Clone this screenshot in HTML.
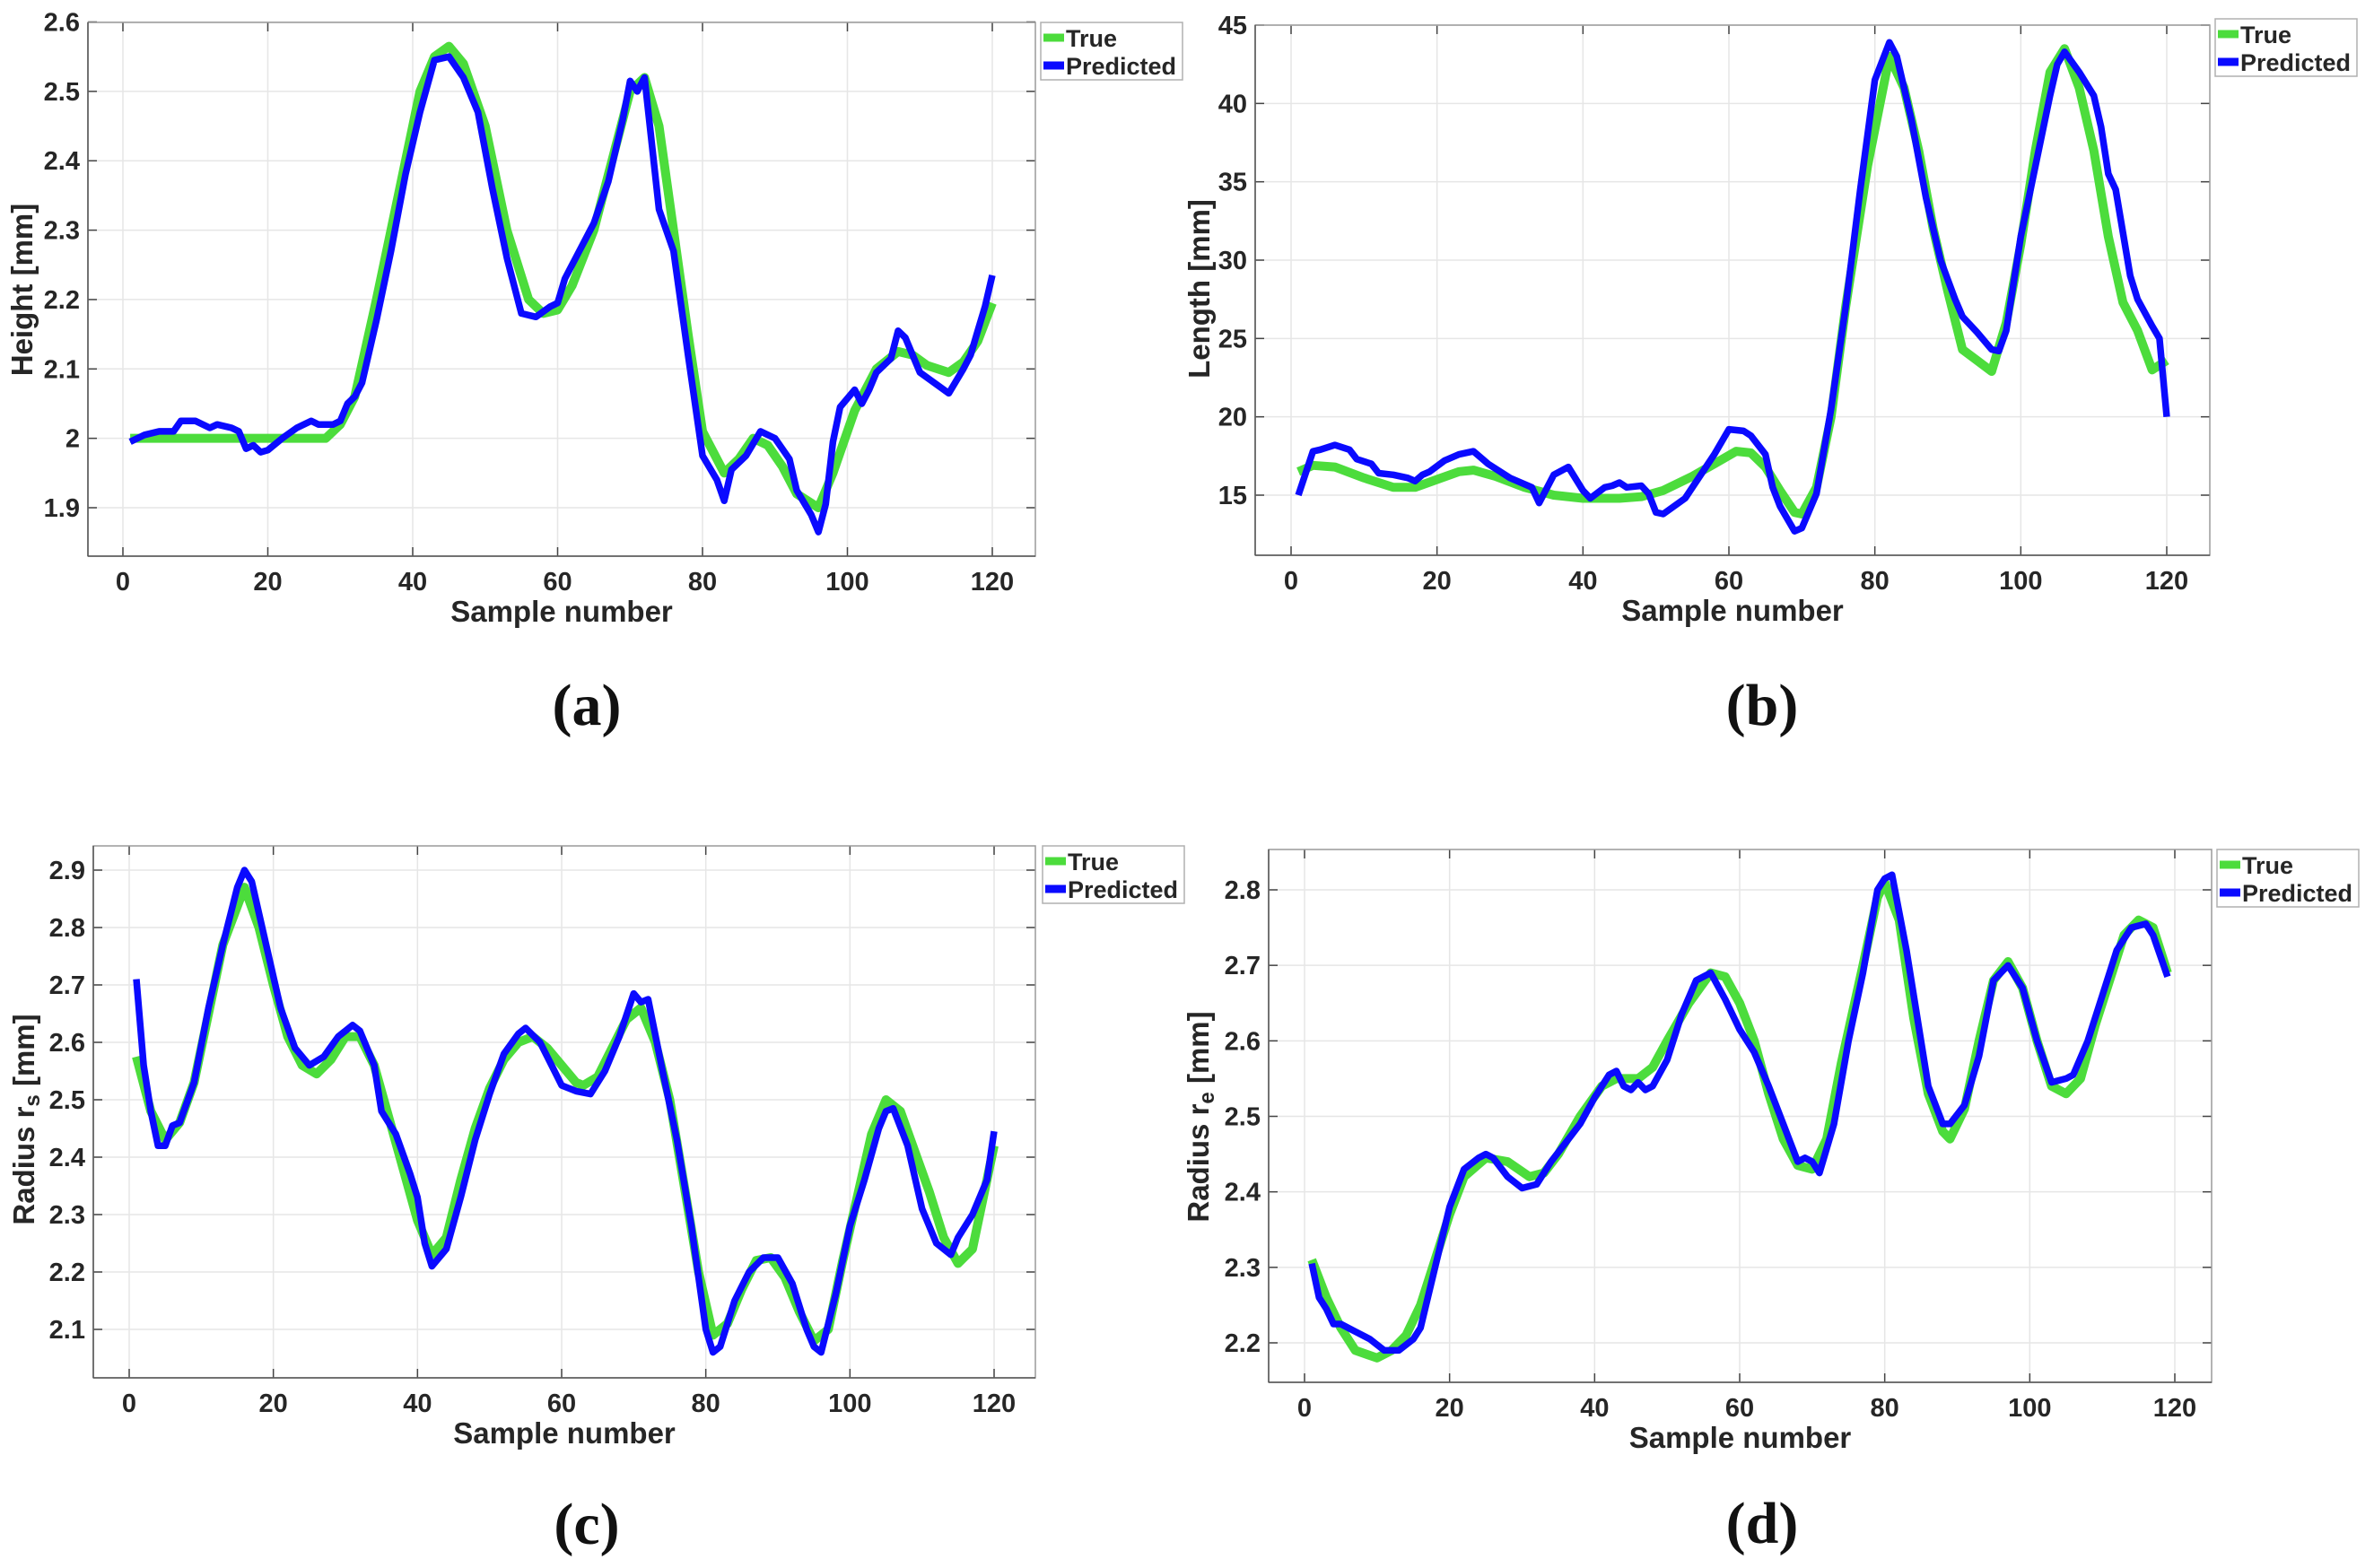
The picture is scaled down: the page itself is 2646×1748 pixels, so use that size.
<!DOCTYPE html>
<html><head><meta charset="utf-8">
<style>
html,body{margin:0;padding:0;background:#fff;}
svg{display:block;}
text{font-family:"Liberation Sans",Arial,sans-serif;}
</style></head>
<body>
<svg id="fig" width="2646" height="1748" viewBox="0 0 2646 1748" xmlns="http://www.w3.org/2000/svg"></svg>
<script>
// ---- Panel (a) Height ----
const aTrueX = [1,28,30,32,35,38,41,43,45,47,50,53,56,58,60,62,65,68,70,72,74,76,78,80,83,85,87,89,91,93,96,98,101,104,107,109,111,114,116,118,120];
const aTrueY = [2.0,2.0,2.02,2.06,2.2,2.35,2.5,2.55,2.565,2.54,2.45,2.3,2.2,2.18,2.185,2.22,2.3,2.42,2.5,2.52,2.45,2.3,2.15,2.01,1.95,1.97,2.0,1.99,1.96,1.92,1.9,1.95,2.04,2.1,2.125,2.12,2.105,2.095,2.11,2.14,2.195];
const aPredX = [1,3,5,7,8,10,12,13,15,16,17,18,19,20,22,24,26,27,29,30,31,32,33,35,37,39,41,43,45,47,49,51,53,55,57,59,60,61,63,65,67,69,70,71,72,74,76,78,80,82,83,84,86,88,90,92,93,95,96,97,98,99,101,102,103,104,106,107,108,110,112,114,116,117,118,119,120];
const aPredY = [1.995,2.005,2.01,2.01,2.025,2.025,2.015,2.02,2.015,2.01,1.985,1.99,1.98,1.983,2.0,2.015,2.025,2.02,2.02,2.025,2.05,2.06,2.08,2.17,2.27,2.38,2.47,2.545,2.55,2.52,2.47,2.36,2.26,2.18,2.175,2.19,2.195,2.23,2.27,2.31,2.37,2.46,2.515,2.5,2.52,2.33,2.27,2.12,1.975,1.94,1.91,1.955,1.975,2.01,2.0,1.97,1.925,1.89,1.865,1.905,1.995,2.045,2.07,2.05,2.07,2.095,2.115,2.155,2.145,2.095,2.08,2.065,2.1,2.12,2.155,2.19,2.235];
const aYTicks = [1.9,2.0,2.1,2.2,2.3,2.4,2.5,2.6];
const aYTickLabels = ["1.9","2","2.1","2.2","2.3","2.4","2.5","2.6"];

// ---- Panel (b) Length ----
const bTrueX = [1,3,6,10,14,17,20,23,25,28,32,36,40,45,48,51,55,58,61,63,65,67,69,70,72,74,76,79,82,84,86,88,90,92,94,96,98,100,102,104,106,108,110,112,114,116,118,120];
const bTrueY = [16.5,16.9,16.8,16.1,15.5,15.5,16,16.5,16.6,16.2,15.5,15,14.8,14.8,14.9,15.3,16.2,17,17.8,17.7,16.8,15.3,13.9,13.8,15.5,20,27,36,43,41,37,32,28,24.3,23.6,22.9,26,31,37,42,43.5,41,37,31.5,27.3,25.5,23,23.6];
const bPredX = [1,3,4,6,8,9,11,12,14,16,17,18,19,21,23,25,27,30,33,34,36,38,40,41,43,44,45,46,48,49,50,51,54,56,58,60,62,63,65,66,67,69,70,72,74,76,78,80,82,83,85,87,89,91,92,94,96,97,98,100,102,104,105,106,108,110,111,112,113,115,116,118,119,120];
const bPredY = [15.0,17.8,17.9,18.2,17.9,17.3,17.0,16.4,16.3,16.1,15.9,16.3,16.5,17.2,17.6,17.8,17.0,16.1,15.5,14.5,16.3,16.8,15.3,14.8,15.5,15.6,15.8,15.5,15.6,15.1,13.9,13.8,14.8,16.2,17.6,19.2,19.1,18.8,17.6,15.5,14.3,12.7,12.9,15.1,20.5,27,34.5,41.5,43.9,43,39,34,30,27.5,26.4,25.4,24.3,24.2,25.5,31.5,36,40.5,42.5,43.3,42,40.5,38.5,35.5,34.5,29,27.5,25.8,25,20.0];
const bYTicks = [15,20,25,30,35,40,45];
const bYTickLabels = ["15","20","25","30","35","40","45"];

// ---- Panel (c) Radius rs ----
const cTrueX = [1,3,5,7,9,11,13,16,18,20,22,24,26,28,30,32,34,36,38,40,42,44,46,48,50,52,54,56,58,60,62,63,65,67,69,71,73,75,77,79,81,83,85,87,89,91,93,95,97,99,101,103,105,107,109,111,113,115,117,120];
const cTrueY = [2.575,2.48,2.43,2.46,2.53,2.65,2.77,2.87,2.8,2.7,2.61,2.56,2.545,2.57,2.61,2.61,2.56,2.47,2.38,2.29,2.23,2.26,2.36,2.45,2.52,2.57,2.6,2.61,2.59,2.56,2.53,2.525,2.54,2.59,2.64,2.66,2.6,2.5,2.35,2.2,2.09,2.11,2.17,2.22,2.225,2.19,2.13,2.08,2.1,2.22,2.33,2.44,2.5,2.48,2.41,2.34,2.26,2.215,2.24,2.42];
const cPredX = [1,2,3,4,5,6,7,9,11,13,15,16,17,19,21,23,25,27,29,31,32,34,35,37,39,40,41,42,44,46,48,50,52,54,55,57,59,60,62,64,66,68,70,71,72,74,76,78,80,81,82,84,86,88,90,92,94,95,96,98,100,102,104,105,106,108,110,112,114,115,117,119,120];
const cPredY = [2.71,2.56,2.48,2.42,2.42,2.455,2.46,2.53,2.66,2.77,2.87,2.9,2.88,2.77,2.66,2.59,2.56,2.575,2.61,2.63,2.62,2.56,2.48,2.44,2.37,2.33,2.25,2.21,2.24,2.33,2.43,2.51,2.58,2.615,2.625,2.6,2.55,2.525,2.515,2.51,2.55,2.61,2.685,2.67,2.675,2.55,2.43,2.28,2.1,2.06,2.07,2.15,2.2,2.225,2.225,2.18,2.1,2.07,2.06,2.16,2.28,2.36,2.45,2.48,2.485,2.42,2.31,2.25,2.23,2.26,2.3,2.36,2.445];
const cYTicks = [2.1,2.2,2.3,2.4,2.5,2.6,2.7,2.8,2.9];
const cYTickLabels = ["2.1","2.2","2.3","2.4","2.5","2.6","2.7","2.8","2.9"];

// ---- Panel (d) Radius re ----
const dTrueX = [1,3,5,7,10,12,14,16,18,20,22,25,28,31,33,35,38,41,43,46,48,50,53,56,58,60,62,64,66,68,70,72,74,77,79,80,82,84,86,88,89,91,93,95,97,99,101,103,105,107,109,111,113,115,117,119];
const dTrueY = [2.31,2.26,2.22,2.19,2.18,2.19,2.21,2.25,2.31,2.37,2.42,2.445,2.44,2.42,2.425,2.45,2.5,2.54,2.55,2.55,2.565,2.6,2.65,2.69,2.685,2.65,2.6,2.53,2.47,2.435,2.43,2.47,2.57,2.7,2.79,2.81,2.76,2.63,2.53,2.48,2.47,2.51,2.6,2.68,2.705,2.67,2.6,2.54,2.53,2.55,2.62,2.68,2.74,2.76,2.75,2.69];
const dPredX = [1,2,3,4,5,7,9,11,13,15,16,18,20,22,24,25,26,28,30,32,34,36,38,40,42,43,44,45,46,47,48,50,52,54,56,58,60,62,64,66,68,69,70,71,73,75,77,79,80,81,83,85,86,88,89,91,93,95,97,99,101,103,105,106,108,110,112,114,116,117,119];
const dPredY = [2.305,2.26,2.245,2.225,2.225,2.215,2.205,2.19,2.19,2.205,2.22,2.3,2.38,2.43,2.445,2.45,2.445,2.42,2.405,2.41,2.44,2.465,2.49,2.525,2.555,2.56,2.54,2.535,2.545,2.535,2.54,2.575,2.635,2.68,2.69,2.655,2.615,2.585,2.54,2.49,2.44,2.445,2.44,2.425,2.49,2.6,2.69,2.8,2.815,2.82,2.72,2.6,2.54,2.49,2.49,2.515,2.58,2.68,2.7,2.67,2.6,2.545,2.55,2.555,2.6,2.66,2.72,2.75,2.755,2.74,2.685];
const dYTicks = [2.2,2.3,2.4,2.5,2.6,2.7,2.8];
const dYTickLabels = ["2.2","2.3","2.4","2.5","2.6","2.7","2.8"];

const xTicks = [0,20,40,60,80,100,120];
const xTickLabels = ["0","20","40","60","80","100","120"];

const NS = "http://www.w3.org/2000/svg";
const svg = document.getElementById('fig');
function mk(tag, attrs, parent){
  const e = document.createElementNS(NS, tag);
  for (const k in attrs) e.setAttribute(k, attrs[k]);
  (parent||svg).appendChild(e);
  return e;
}

function panel(p){
  const g = mk('g', {});
  
  
  const sx = v => p.x0px + (v - 0) * (p.x120px - p.x0px) / 120;
  const sy = v => p.yApx + (v - p.yA) * (p.yBpx - p.yApx) / (p.yB - p.yA);
  // grid
  xTicks.forEach(t => {
    const l = mk('line', {x1:sx(t), x2:sx(t), y1:p.top, y2:p.bottom, stroke:'#e6e6e6', 'stroke-width':1.5}, g);
    
    
    const tk = mk('line', {x1:sx(t), x2:sx(t), y1:p.bottom, y2:p.bottom-10, stroke:'#444', 'stroke-width':1.5}, g);
    
    
    const tk2 = mk('line', {x1:sx(t), x2:sx(t), y1:p.top, y2:p.top+10, stroke:'#444', 'stroke-width':1.5}, g);
    
    
  });
  xTicks.forEach((t,i) => {
    const tx = mk('text', {x:sx(t), y:p.bottom+38, 'text-anchor':'middle', 'font-size':29, 'font-weight':'bold', fill:'#262626'}, g);
    tx.textContent = xTickLabels[i];
    
    
  });
  p.yTicks.forEach((t,i) => {
    const l = mk('line', {x1:p.left, x2:p.right, y1:sy(t), y2:sy(t), stroke:'#e6e6e6', 'stroke-width':1.5}, g);
    
    
    const tk = mk('line', {x1:p.left, x2:p.left+10, y1:sy(t), y2:sy(t), stroke:'#444', 'stroke-width':1.5}, g);
    
    
    const tk2 = mk('line', {x1:p.right-10, x2:p.right, y1:sy(t), y2:sy(t), stroke:'#444', 'stroke-width':1.5}, g);
    
    
    const tx = mk('text', {x:p.left-9, y:sy(t)+10, 'text-anchor':'end', 'font-size':29, 'font-weight':'bold', fill:'#262626'}, g);
    tx.textContent = p.yTickLabels[i];
    
    
  });
  // axes box
  const box = mk('rect', {x:p.left, y:p.top, width:p.right-p.left, height:p.bottom-p.top, fill:'none', stroke:'#9a9a9a', 'stroke-width':1.5}, g);
  
  
  const bl = mk('line', {x1:p.left, x2:p.right, y1:p.bottom, y2:p.bottom, stroke:'#555', 'stroke-width':1.5}, g);
  
  
  const ll = mk('line', {x1:p.left, x2:p.left, y1:p.top, y2:p.bottom, stroke:'#555', 'stroke-width':1.5}, g);
  
  
  // series
  const pts = (xs, ys) => xs.map((x,i) => sx(x).toFixed(1) + ',' + sy(ys[i]).toFixed(1)).join(' ');
  const tl = mk('polyline', {points:pts(p.tx,p.ty), fill:'none', stroke:'#4cdc3c', 'stroke-width':10, 'stroke-linejoin':'round'}, g);
  
  
  const pl = mk('polyline', {points:pts(p.px,p.py), fill:'none', stroke:'#0a0aff', 'stroke-width':7.5, 'stroke-linejoin':'round'}, g);
  
  
  // labels
  const xl = mk('text', {x:(p.left+p.right)/2 + 0, y:p.bottom+73, 'text-anchor':'middle', 'font-size':33, 'font-weight':'bold', fill:'#262626'}, g);
  xl.textContent = 'Sample number';
  
  
  const yl = mk('text', {x:0, y:0, 'text-anchor':'middle', 'font-size':33, 'font-weight':'bold', fill:'#262626', transform:'translate(' + p.ylx + ',' + p.yly + ') rotate(-90)'}, g);
  
  
  if (p.sub) {
    yl.appendChild(document.createTextNode('Radius  r'));
    const ts = mk('tspan', {'font-size':24, dy:6}, yl);
    ts.textContent = p.sub;
    const ts2 = mk('tspan', {dy:-6}, yl);
    ts2.textContent = '  [mm]';
  } else {
    yl.textContent = p.ylabel;
  }
  // legend
  const lg = mk('g', {}, g);
  
  
  const lr = mk('rect', {x:p.lgx, y:p.lgy, width:158, height:64, fill:'#fff', stroke:'#b0b0b0', 'stroke-width':1.5}, lg);
  
  
  [['True','#4cdc3c',17],['Predicted','#0a0aff',48]].forEach(it => {
    const e = mk('g', {}, lg);
    
    
    mk('line', {x1:p.lgx+3, x2:p.lgx+26, y1:p.lgy+it[2], y2:p.lgy+it[2], stroke:it[1], 'stroke-width':9}, e);
    const t = mk('text', {x:p.lgx+28, y:p.lgy+it[2]+10, 'font-size':27, 'font-weight':'bold', fill:'#262626'}, e);
    t.textContent = it[0];
  });
  // caption
  const cap = mk('text', {x:p.capx, y:p.capy, 'text-anchor':'middle', 'font-size':66, 'font-weight':'bold', fill:'#111', style:'font-family:"Liberation Serif",serif'}, g);
  cap.textContent = '(' + p.id + ')';
  
  
}

panel({id:'a', left:98, right:1154, top:25, bottom:620, x0px:137, x120px:1106,
  yA:2.6, yApx:24.5, yB:1.9, yBpx:566, yTicks:aYTicks, yTickLabels:aYTickLabels,
  tx:aTrueX, ty:aTrueY, px:aPredX, py:aPredY, ylabel:'Height [mm]', ylx:36, yly:323,
  lgx:1160, lgy:25, capx:654, capy:808});
panel({id:'b', left:1399, right:2463, top:28, bottom:619, x0px:1439, x120px:2415,
  yA:45, yApx:28, yB:15, yBpx:552, yTicks:bYTicks, yTickLabels:bYTickLabels,
  tx:bTrueX, ty:bTrueY, px:bPredX, py:bPredY, ylabel:'Length [mm]', ylx:1348, yly:322,
  lgx:2469, lgy:21, capx:1964, capy:808});
panel({id:'c', left:104, right:1154, top:943, bottom:1536, x0px:144, x120px:1108,
  yA:2.9, yApx:970, yB:2.1, yBpx:1482, yTicks:cYTicks, yTickLabels:cYTickLabels,
  tx:cTrueX, ty:cTrueY, px:cPredX, py:cPredY, sub:'s', ylx:38, yly:1248,
  lgx:1162, lgy:943, capx:654, capy:1721});
panel({id:'d', left:1414, right:2465, top:947, bottom:1541, x0px:1454, x120px:2424,
  yA:2.8, yApx:992, yB:2.2, yBpx:1497, yTicks:dYTicks, yTickLabels:dYTickLabels,
  tx:dTrueX, ty:dTrueY, px:dPredX, py:dPredY, sub:'e', ylx:1347, yly:1245,
  lgx:2471, lgy:947, capx:1964, capy:1720});
</script>
</body></html>
